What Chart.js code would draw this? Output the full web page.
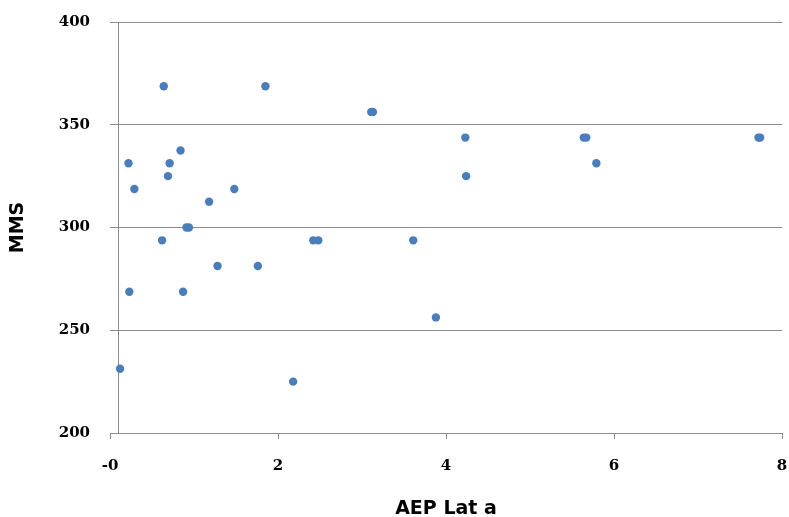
<!DOCTYPE html>
<html lang="en">
<head>
    <meta charset="UTF-8">
    <title>MMS vs AEP Lat a</title>
    <script src="https://cdn.jsdelivr.net/npm/chart.js"></script>
    <style>
        body {
            margin: 0;
            padding: 0;
            background-color: #ffffff;
        }

        .chart-box {
            width: 789px;
            height: 517px;
        }
    </style>
</head>
<body>
    <div class="chart-box">
        <canvas id="scatterChart"></canvas>
    </div>

    <script>
        // Values
        const aepLatA = [0.02, 0.12, 0.13, 0.19, 0.52, 0.54, 0.59, 0.61, 0.74, 0.77,
                         0.81, 0.84, 1.08, 1.18, 1.38, 1.66, 1.75, 2.08, 2.32, 2.38,
                         3.01, 3.03, 3.51, 3.78, 4.13, 4.14, 5.54, 5.57, 5.69, 7.62, 7.64];
        const mms = [231.25, 331.25, 268.75, 318.75, 293.75, 368.75, 325, 331.25, 337.5, 268.75,
                     300, 300, 312.5, 281.25, 318.75, 281.25, 368.75, 225, 293.75, 293.75,
                     356.25, 356.25, 293.75, 256.25, 343.75, 325, 343.75, 343.75, 331.25, 343.75, 343.75];

        const xTickLabels = ["-0", "2", "4", "6", "8"];
        const yTickLabels = ["200", "250", "300", "350", "400"];

        const points = aepLatA.map((x, i) => ({ x: x, y: mms[i] }));

        // Vertical axis line crosses at x = 0, like the Excel original
        const zeroLine = {
            id: "zeroLine",
            beforeDatasetsDraw(chart) {
                const { ctx, chartArea, scales } = chart;
                const px = Math.round(scales.x.getPixelForValue(0)) + 0.5;
                ctx.save();
                ctx.strokeStyle = "#8c8c8c";
                ctx.lineWidth = 1;
                ctx.beginPath();
                ctx.moveTo(px, chartArea.top);
                ctx.lineTo(px, chartArea.bottom);
                ctx.stroke();
                ctx.restore();
            }
        };

        const ctx = document.getElementById("scatterChart").getContext("2d");
        const scatterChart = new Chart(ctx, {
            type: "scatter",
            data: {
                datasets: [{
                    label: "MMS",
                    data: points,
                    backgroundColor: "#4a7ebb",
                    borderWidth: 0,
                    pointRadius: 4.2,
                    pointHoverRadius: 4.2
                }]
            },
            options: {
                responsive: true,
                maintainAspectRatio: false,
                animation: false,
                layout: {
                    padding: { left: 0, right: 7, top: 22, bottom: 0 }
                },
                plugins: {
                    legend: { display: false },
                    tooltip: { enabled: false }
                },
                scales: {
                    x: {
                        type: "linear",
                        min: -0.1,
                        max: 7.9,
                        // fixed axis box, and no extra side padding from the labels
                        afterFit: (scale) => {
                            scale.height = 84;
                            scale.paddingLeft = 0;
                            scale.paddingRight = 0;
                        },
                        ticks: {
                            stepSize: 2,
                            padding: 18,
                            maxRotation: 0,
                            color: "#000000",
                            font: { family: "DejaVu Serif", size: 15, weight: "bold" },
                            callback: (value, index) => xTickLabels[index]
                        },
                        grid: {
                            drawOnChartArea: false,
                            drawTicks: true,
                            tickLength: 6,
                            color: "#8c8c8c"
                        },
                        border: { color: "#8c8c8c" },
                        title: {
                            display: true,
                            text: "AEP Lat a",
                            color: "#000000",
                            padding: { top: 0, bottom: -2 },
                            font: { family: "DejaVu Sans", size: 19, weight: "bold", lineHeight: 1 }
                        }
                    },
                    y: {
                        min: 200,
                        max: 400,
                        afterFit: (scale) => {
                            scale.width = 110;
                            scale.paddingTop = 0;
                            scale.paddingBottom = 0;
                        },
                        ticks: {
                            stepSize: 50,
                            padding: 20,
                            color: "#000000",
                            font: { family: "DejaVu Serif", size: 15, weight: "bold" },
                            callback: (value, index) => yTickLabels[index]
                        },
                        grid: {
                            drawTicks: false,
                            color: "#8c8c8c"
                        },
                        border: { display: false },
                        title: {
                            display: true,
                            text: "MMS",
                            color: "#000000",
                            padding: { top: 9, bottom: 0 },
                            font: { family: "DejaVu Sans", size: 19, weight: "bold", lineHeight: 1 }
                        }
                    }
                }
            },
            plugins: [zeroLine]
        });
    </script>
</body>
</html>
